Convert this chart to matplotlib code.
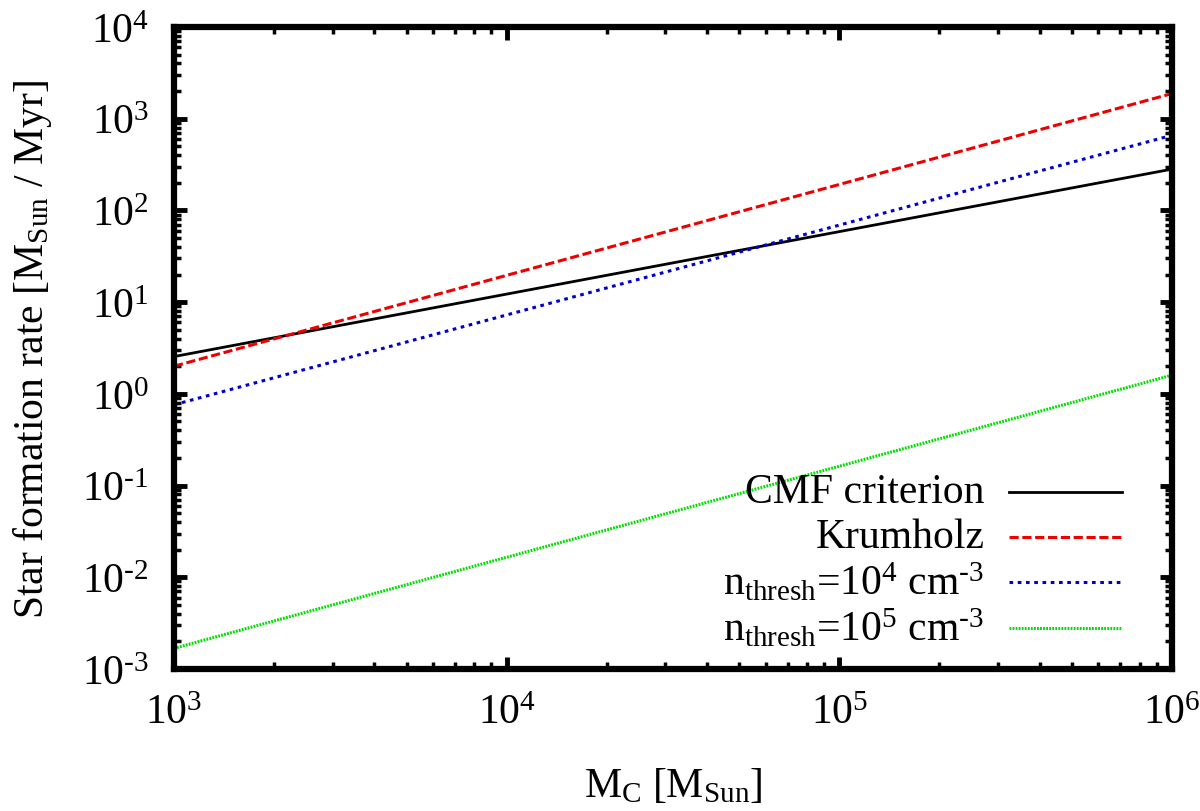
import matplotlib
matplotlib.use("Agg")
import matplotlib.pyplot as plt
from matplotlib.ticker import FuncFormatter
import numpy as np

plt.rcParams['font.family'] = ['Liberation Serif', 'DejaVu Serif']
plt.rcParams['mathtext.fontset'] = 'custom'
plt.rcParams['mathtext.rm'] = 'Liberation Serif'
plt.rcParams['mathtext.it'] = 'Liberation Serif:italic'
plt.rcParams['axes.unicode_minus'] = False

# cloud mass [M_sun] and star formation rates [M_sun / Myr]
mass = [1e3, 1e6]
sfr_cmf = [2.55, 282]
sfr_krumholz = [2.0, 1880]
sfr_n4 = [0.76, 660]
sfr_n5 = [0.00168, 1.6]

labels = ['CMF criterion', 'Krumholz',
          r'n$_\mathrm{thresh}$=10$^4$ cm$^{\text{-3}}$',
          r'n$_\mathrm{thresh}$=10$^5$ cm$^{\text{-3}}$']
colors = ['black', '#ee0000', '#0000cc', '#00dd00']
styles = ['-', (0, (3, 1.2)), (0, (1.2, 1.5)), (0, (0.6, 0.4))]
widths = [2.0, 2.2, 2.2, 2.2]


def pow10(v, pos):
    # gnuplot-like "10^n" labels with a plain hyphen for negative powers
    return r'10$^{\text{%d}}$' % int(round(np.log10(v)))


fig = plt.figure(figsize=(12, 8.12), dpi=100)
ax = fig.add_axes([174 / 1200, 1 - 670 / 812, 998 / 1200, 642 / 812])

for ys, c, ls, lw in zip([sfr_cmf, sfr_krumholz, sfr_n4, sfr_n5], colors, styles, widths):
    ax.plot(mass, ys, color=c, linestyle=ls, linewidth=lw)

ax.set_xscale('log')
ax.set_yscale('log')
ax.set_xlim(1e3, 1e6)
ax.set_ylim(1e-3, 1e4)
ax.xaxis.set_major_formatter(FuncFormatter(pow10))
ax.yaxis.set_major_formatter(FuncFormatter(pow10))

for s in ax.spines.values():
    s.set_linewidth(4.5)
ax.tick_params(which='both', direction='in', top=True, right=True, labelsize=30)
ax.tick_params(which='major', length=9, width=3.5, pad=18)
ax.tick_params(which='minor', length=5, width=2.5)

ax.set_xlabel(r'M$_\mathrm{C}$ [M$_\mathrm{Sun}$]', fontsize=30, labelpad=24)
ax.set_ylabel(r'Star formation rate [M$_\mathrm{Sun}$ / Myr]', fontsize=30, labelpad=20)

# gnuplot style key: text right aligned, sample line to the right
key_y = [0.276, 0.206, 0.136, 0.064]
for lab, c, ls, lw, y in zip(labels, colors, styles, widths, key_y):
    ax.text(0.812, y, lab, transform=ax.transAxes, ha='right', va='center', fontsize=30)
    ax.plot([0.837, 0.95], [y, y], transform=ax.transAxes, color=c,
            linestyle=ls, linewidth=lw)

plt.savefig('out.png', dpi=100)
